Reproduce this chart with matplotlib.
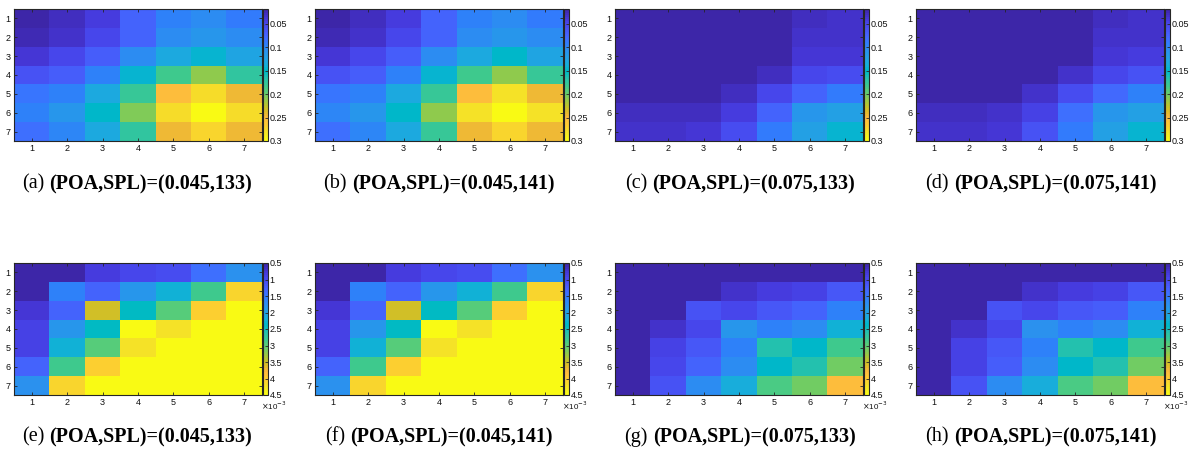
import numpy as np
import matplotlib
matplotlib.use('Agg')
import matplotlib.pyplot as plt
from matplotlib.colors import ListedColormap

# ---------------- data ----------------
row_labels = [1, 2, 3, 4, 5, 6, 7]
col_labels = [1, 2, 3, 4, 5, 6, 7]

panel_letters = ['(a)', '(b)', '(c)', '(d)', '(e)', '(f)', '(g)', '(h)']
panel_titles = ['(POA,SPL)=(0.045,133)', '(POA,SPL)=(0.045,141)',
                '(POA,SPL)=(0.075,133)', '(POA,SPL)=(0.075,141)',
                '(POA,SPL)=(0.045,133)', '(POA,SPL)=(0.045,141)',
                '(POA,SPL)=(0.075,133)', '(POA,SPL)=(0.075,141)']

# top row (colour range 0.018 .. 0.3)
data_a = [[0.022, 0.028, 0.044, 0.074, 0.094, 0.103, 0.089],
          [0.025, 0.034, 0.050, 0.074, 0.103, 0.114, 0.103],
          [0.039, 0.050, 0.069, 0.103, 0.131, 0.145, 0.125],
          [0.060, 0.069, 0.097, 0.142, 0.182, 0.210, 0.176],
          [0.086, 0.097, 0.131, 0.179, 0.252, 0.277, 0.246],
          [0.097, 0.111, 0.148, 0.207, 0.277, 0.300, 0.277],
          [0.080, 0.100, 0.131, 0.176, 0.246, 0.272, 0.244]]
data_b = [[0.021, 0.027, 0.043, 0.073, 0.094, 0.103, 0.090],
          [0.025, 0.033, 0.049, 0.074, 0.103, 0.114, 0.104],
          [0.039, 0.049, 0.069, 0.103, 0.131, 0.146, 0.126],
          [0.060, 0.069, 0.097, 0.142, 0.182, 0.210, 0.177],
          [0.087, 0.097, 0.131, 0.180, 0.252, 0.278, 0.247],
          [0.098, 0.112, 0.149, 0.208, 0.278, 0.300, 0.278],
          [0.081, 0.100, 0.132, 0.177, 0.246, 0.273, 0.245]]
data_c = [[0.018, 0.018, 0.018, 0.018, 0.019, 0.030, 0.032],
          [0.018, 0.018, 0.018, 0.018, 0.019, 0.032, 0.034],
          [0.018, 0.018, 0.018, 0.019, 0.020, 0.036, 0.040],
          [0.019, 0.019, 0.019, 0.020, 0.029, 0.050, 0.056],
          [0.020, 0.020, 0.021, 0.030, 0.052, 0.074, 0.090],
          [0.028, 0.028, 0.031, 0.044, 0.075, 0.112, 0.122],
          [0.032, 0.032, 0.036, 0.055, 0.089, 0.122, 0.145]]
data_d = [[0.018, 0.018, 0.018, 0.018, 0.019, 0.030, 0.033],
          [0.018, 0.018, 0.018, 0.018, 0.020, 0.032, 0.035],
          [0.018, 0.018, 0.018, 0.019, 0.021, 0.038, 0.043],
          [0.019, 0.019, 0.019, 0.021, 0.032, 0.053, 0.060],
          [0.020, 0.020, 0.022, 0.033, 0.057, 0.078, 0.094],
          [0.030, 0.030, 0.033, 0.048, 0.080, 0.112, 0.122],
          [0.034, 0.034, 0.039, 0.058, 0.092, 0.120, 0.145]]

# bottom row (x 1e-3, colour range 0.5 .. 4.5)
data_e = [[0.45, 0.48, 0.86, 0.98, 1.02, 1.38, 1.78],
          [0.50, 1.58, 1.26, 1.86, 2.22, 2.82, 4.12],
          [0.78, 1.26, 3.50, 2.42, 2.98, 4.06, 5.00],
          [0.90, 1.86, 2.42, 5.00, 4.22, 5.50, 6.00],
          [0.90, 2.22, 2.98, 4.22, 5.00, 6.20, 6.80],
          [1.26, 2.82, 4.06, 4.90, 5.80, 6.60, 7.20],
          [1.78, 4.12, 4.70, 5.50, 6.30, 7.00, 7.60]]
data_f = [[0.45, 0.48, 0.86, 0.98, 1.02, 1.38, 1.78],
          [0.50, 1.58, 1.26, 1.86, 2.22, 2.82, 4.12],
          [0.78, 1.26, 3.50, 2.42, 2.98, 4.06, 5.10],
          [0.90, 1.86, 2.42, 5.10, 4.22, 5.60, 6.10],
          [0.90, 2.22, 2.98, 4.22, 5.10, 6.30, 6.90],
          [1.26, 2.82, 4.06, 5.00, 5.90, 6.70, 7.30],
          [1.78, 4.12, 4.80, 5.60, 6.40, 7.10, 7.70]]
data_g = [[0.40, 0.40, 0.42, 0.43, 0.44, 0.45, 0.46],
          [0.40, 0.42, 0.45, 0.70, 0.86, 0.90, 1.18],
          [0.42, 0.45, 1.10, 0.98, 1.18, 1.26, 1.62],
          [0.44, 0.74, 0.98, 1.82, 1.58, 1.70, 2.22],
          [0.45, 0.90, 1.18, 1.58, 2.60, 2.34, 2.86],
          [0.46, 0.94, 1.26, 1.74, 2.34, 2.60, 3.10],
          [0.47, 1.10, 1.74, 2.18, 2.90, 3.10, 3.86]]
data_h = [[0.40, 0.40, 0.42, 0.43, 0.44, 0.45, 0.46],
          [0.40, 0.42, 0.45, 0.70, 0.84, 0.88, 1.16],
          [0.42, 0.45, 1.08, 0.98, 1.16, 1.24, 1.62],
          [0.44, 0.72, 0.96, 1.80, 1.58, 1.70, 2.22],
          [0.45, 0.88, 1.16, 1.58, 2.58, 2.34, 2.84],
          [0.46, 0.92, 1.24, 1.72, 2.34, 2.58, 3.08],
          [0.47, 1.08, 1.72, 2.16, 2.88, 3.08, 3.86]]

top_clim = (0.018, 0.3)
top_ticks = [0.05, 0.1, 0.15, 0.2, 0.25, 0.3]
top_ticklabels = ['0.05', '0.1', '0.15', '0.2', '0.25', '0.3']
bot_clim = (0.5, 4.5)
bot_ticks = [0.5, 1, 1.5, 2, 2.5, 3, 3.5, 4, 4.5]
bot_ticklabels = ['0.5', '1', '1.5', '2', '2.5', '3', '3.5', '4', '4.5']

# ---------------- parula colormap ----------------
PARULA = [
[0.2422,0.1504,0.6603],[0.2504,0.1650,0.7076],[0.2578,0.1818,0.7511],[0.2647,0.1978,0.7952],
[0.2706,0.2147,0.8364],[0.2751,0.2342,0.8710],[0.2783,0.2559,0.8991],[0.2803,0.2782,0.9221],
[0.2813,0.3006,0.9414],[0.2810,0.3228,0.9579],[0.2795,0.3447,0.9717],[0.2760,0.3667,0.9829],
[0.2699,0.3892,0.9906],[0.2602,0.4123,0.9952],[0.2440,0.4358,0.9988],[0.2206,0.4603,0.9973],
[0.1963,0.4847,0.9892],[0.1834,0.5074,0.9798],[0.1786,0.5289,0.9682],[0.1764,0.5499,0.9520],
[0.1687,0.5703,0.9359],[0.1540,0.5902,0.9218],[0.1460,0.6091,0.9079],[0.1380,0.6276,0.8973],
[0.1248,0.6459,0.8883],[0.1113,0.6635,0.8763],[0.0952,0.6798,0.8598],[0.0689,0.6948,0.8394],
[0.0297,0.7082,0.8163],[0.0036,0.7203,0.7917],[0.0067,0.7312,0.7660],[0.0433,0.7411,0.7394],
[0.0964,0.7500,0.7120],[0.1408,0.7584,0.6842],[0.1717,0.7670,0.6554],[0.1938,0.7758,0.6251],
[0.2161,0.7843,0.5923],[0.2470,0.7918,0.5567],[0.2906,0.7973,0.5188],[0.3406,0.8008,0.4789],
[0.3909,0.8029,0.4354],[0.4456,0.8024,0.3909],[0.5044,0.7993,0.3480],[0.5616,0.7942,0.3045],
[0.6174,0.7876,0.2612],[0.6720,0.7793,0.2227],[0.7242,0.7698,0.1910],[0.7738,0.7598,0.1646],
[0.8203,0.7498,0.1535],[0.8634,0.7406,0.1596],[0.9035,0.7330,0.1774],[0.9393,0.7288,0.2100],
[0.9728,0.7298,0.2394],[0.9956,0.7434,0.2371],[0.9970,0.7659,0.2199],[0.9952,0.7893,0.2028],
[0.9892,0.8136,0.1885],[0.9786,0.8386,0.1766],[0.9676,0.8639,0.1643],[0.9610,0.8890,0.1537],
[0.9597,0.9135,0.1423],[0.9628,0.9373,0.1265],[0.9691,0.9606,0.1064],[0.9769,0.9839,0.0805]]
parula = ListedColormap(np.array(PARULA), name='parula')

# ---------------- layout ----------------
W, H = 1189, 450
fig = plt.figure(figsize=(W / 100, H / 100), dpi=100)
plt.rcParams['font.family'] = ['Liberation Sans', 'DejaVu Sans']


def px(x0, y0, x1, y1):
    return [x0 / W, 1 - y1 / H, (x1 - x0) / W, (y1 - y0) / H]


ax_lefts = [14, 315, 615, 916]
ax_w = 248
rows_y = [(9, 141), (263, 395)]
caption_y = [184, 437]
caption_xc = [137, 439, 740, 1041]

all_data = [data_a, data_b, data_c, data_d, data_e, data_f, data_g, data_h]
frame_col = '#262626'
tick_fs = 6.5

captions = []
for i, d in enumerate(all_data):
    r, c = divmod(i, 4)
    y0, y1 = rows_y[r]
    x0 = ax_lefts[c]
    x1 = x0 + ax_w
    clim = top_clim if r == 0 else bot_clim
    ax = fig.add_axes(px(x0, y0, x1, y1))
    im = ax.imshow(np.array(d), cmap=parula, vmin=clim[0], vmax=clim[1],
                   aspect='auto', interpolation='nearest',
                   extent=(0.5, 7.5, 7.5, 0.5))
    ax.set_xticks(col_labels)
    ax.set_yticks(row_labels)
    ax.set_xticklabels([str(v) for v in col_labels])
    ax.set_yticklabels([str(v) for v in row_labels])
    ax.tick_params(direction='in', top=True, right=True, length=2.5, width=0.6,
                   labelsize=tick_fs, pad=2.5, colors=frame_col, labelcolor='#111111')
    for s in ax.spines.values():
        s.set_color(frame_col)
        s.set_linewidth(0.8)

    cw = 5
    cax = fig.add_axes(px(x1 + 0.5, y0, x1 + 0.5 + cw, y1))
    cb = fig.colorbar(im, cax=cax)
    cax.invert_yaxis()
    if r == 0:
        cb.set_ticks(top_ticks)
        cb.set_ticklabels(top_ticklabels)
    else:
        cb.set_ticks(bot_ticks)
        cb.set_ticklabels(bot_ticklabels)
    cax.tick_params(direction='in', length=2, width=0.6, labelsize=tick_fs,
                    pad=1.5, colors=frame_col, labelcolor='#111111')
    cb.outline.set_edgecolor(frame_col)
    cb.outline.set_linewidth(0.8)
    if r == 1:
        fig.text((x1 - 1) / W, 1 - 400 / H, r'$\times$10$^{-3}$', fontsize=5.8,
                 ha='left', va='top', color='#111111')

    yy = 1 - caption_y[r] / H
    t1 = fig.text(0, yy, panel_letters[i], fontsize=14.5, va='center', ha='left',
                  family=['Liberation Serif', 'DejaVu Serif'])
    t2 = fig.text(0, yy, panel_titles[i], fontsize=14.5, va='center', ha='left',
                  family=['Liberation Serif', 'DejaVu Serif'], fontweight='bold')
    captions.append((t1, t2, caption_xc[c]))

fig.canvas.draw()
renderer = fig.canvas.get_renderer()
gap = 5
for t1, t2, xc in captions:
    w1 = t1.get_window_extent(renderer).width
    w2 = t2.get_window_extent(renderer).width
    start = xc - (w1 + gap + w2) / 2
    t1.set_x(start / W)
    t2.set_x((start + w1 + gap) / W)

fig.savefig('out.png', dpi=100)
